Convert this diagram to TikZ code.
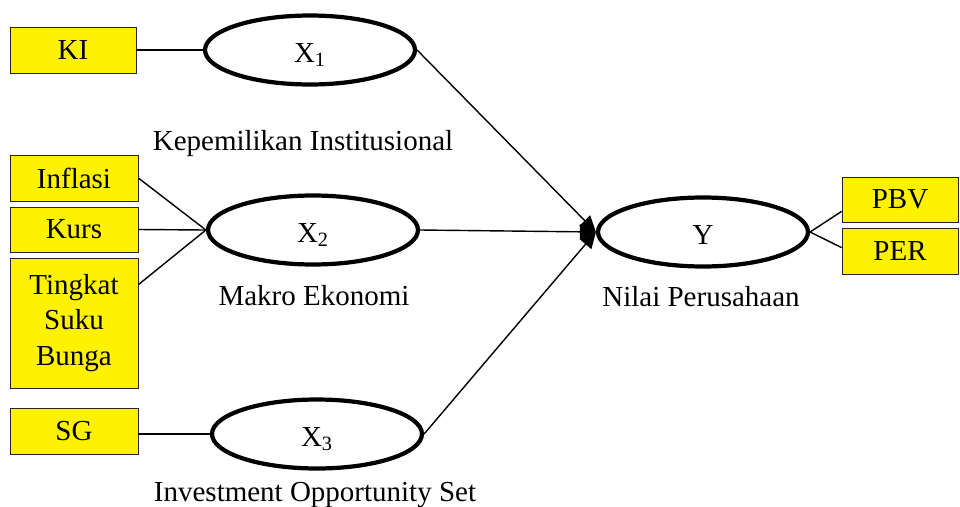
\documentclass[tikz,border=0pt]{standalone}
\usepackage{fontspec}
\setmainfont{Liberation Serif}
\usetikzlibrary{arrows.meta,shapes.geometric}

\begin{document}
\begin{tikzpicture}[x=0.02cm, y=-0.02cm, every node/.style={font=\fontsize{16.5}{20}\selectfont}, >={Triangle[length=3.2mm, width=3mm]},
	indbox/.style={draw=black!85, fill=yellow, inner sep=0pt, align=center},
	latent/.style={ellipse, draw, line width=2.4pt, minimum width=4.2cm, minimum height=1.38cm, text height=3ex, text depth=0pt}]
	\useasboundingbox (0,0) rectangle (960,507);
	% indicators
	\node[indbox, minimum width=2.52cm, minimum height=0.92cm] (KI) at (73,50) {KI};
	\foreach \n/\t/\y/\h in {Inflasi/Inflasi/178/0.92cm, Kurs/Kurs/229.5/0.9cm, Tingkat/Tingkat\\Suku\\Bunga/323/2.6cm, SG/SG/431/0.92cm}
		{\node[indbox, minimum width=2.56cm, minimum height=\h] (\n) at (74,\y) {\t};}
	\node[indbox, minimum width=2.32cm, minimum height=0.9cm] (PBV) at (900,199.5) {PBV};
	\node[indbox, minimum width=2.32cm, minimum height=0.92cm] (PER) at (900,251) {PER};
	% latent variables
	\node[latent] (X1) at (310,50) {X\textsubscript{1}};
	\node[latent] (X2) at (313,230) {X\textsubscript{2}};
	\node[latent] (X3) at (317,434) {X\textsubscript{3}};
	\node[latent] (Y) at (703,232) {Y};
	\node[anchor=base] (lblX1) at (303,150) {Kepemilikan Institusional};
	\node[anchor=base] (lblX2) at (314,305) {Makro Ekonomi};
	\node[anchor=base] (lblX3) at (315,501) {Investment Opportunity Set};
	\node[anchor=base] (lblY) at (701,306) {Nilai Perusahaan};
	% connectors
	\draw[thick] (KI.east) -- (X1.west);
	\draw[thick] (X3.west -| SG.east) -- (X3.west);
	\foreach \n in {Inflasi, Kurs} {\draw[thick] (\n.east) -- (X2.west);}
	\draw[thick] ([yshift=-0.54cm]Tingkat.north east) -- (X2.west);
	\foreach \n in {X1, X2, X3} {\draw[thick, ->] (\n.east) -- (Y.west);}
	\draw[thick] (Y.east) -- ([yshift=0.22cm]PBV.south west);
	\draw[thick] (Y.east) -- ([yshift=-0.4cm]PER.north west);
\end{tikzpicture}
\end{document}
